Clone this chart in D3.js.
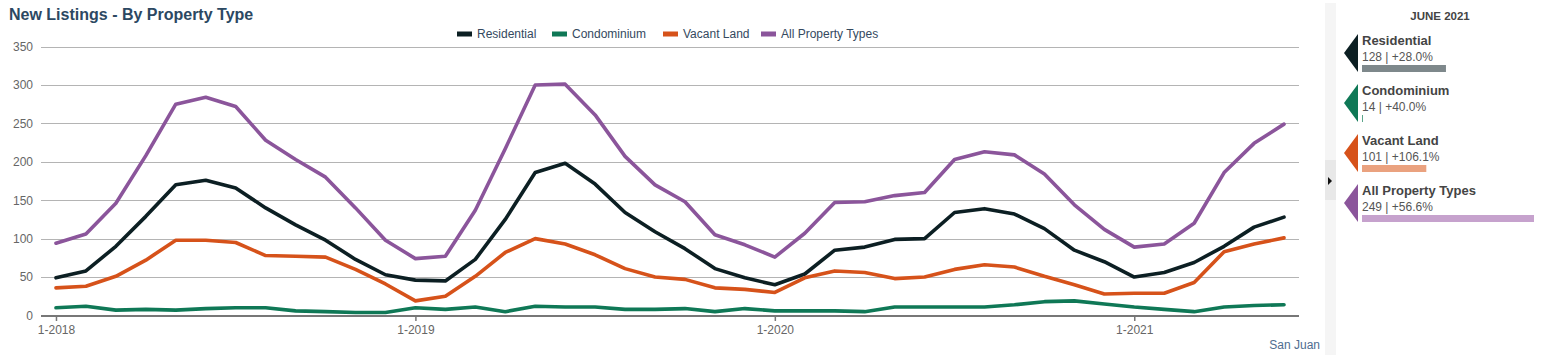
<!DOCTYPE html>
<html><head><meta charset="utf-8">
<script src="https://cdn.jsdelivr.net/npm/d3@7"></script>
<style>body{margin:0;background:#fff;}svg{display:block;font-family:"Liberation Sans",Arial,sans-serif;}</style>
</head><body>
<svg id="c" width="1543" height="355"></svg>
<script>
const months = ["1-2018","2-2018","3-2018","4-2018","5-2018","6-2018","7-2018","8-2018","9-2018","10-2018","11-2018","12-2018",
"1-2019","2-2019","3-2019","4-2019","5-2019","6-2019","7-2019","8-2019","9-2019","10-2019","11-2019","12-2019",
"1-2020","2-2020","3-2020","4-2020","5-2020","6-2020","7-2020","8-2020","9-2020","10-2020","11-2020","12-2020",
"1-2021","2-2021","3-2021","4-2021","5-2021","6-2021"];
const tickLabels = ["1-2018","1-2019","1-2020","1-2021"];
const yTicks = [0,50,100,150,200,250,300,350];
const seriesNames = ["Residential","Condominium","Vacant Land","All Property Types"];
const seriesColors = ["#0c1f23","#0f7856","#d6521a","#8b559b"];
const barColors = ["#7e888b","#5aa58a","#eaa27f","#c6a2cd"];
const residential = [49,58,90,129,170,176,166,140,118,98,73,53, 46,45,73,125,186,198,171,134,109,87,61,49, 40,54,85,89,99,100,134,139,132,113,85,70, 50,56,69,90,115,128];
const condominium = [10,12,7,8,7,9,10,10,6,5,4,4, 10,8,11,5,12,11,11,8,8,9,5,9, 6,6,6,5,11,11,11,11,14,18,19,15, 11,8,5,11,13,14];
const vacantLand = [36,38,51,72,98,98,95,78,77,76,60,41, 19,25,51,82,100,93,79,61,50,47,36,34, 30,49,58,56,48,50,60,66,63,51,40,28, 29,29,43,83,93,101];
const allTypes = [94,106,146,208,275,284,272,228,203,180,140,98, 74,77,137,217,300,301,261,207,170,148,105,92, 76,107,147,148,156,160,203,213,209,184,144,112, 89,93,120,186,224,249];
const panelTitle = "JUNE 2021";
const panelValues = [128,14,101,249];
const panelChanges = ["+28.0%","+40.0%","+106.1%","+56.6%"];

const series = [residential, condominium, vacantLand, allTypes];
const svg = d3.select("#c");

const x = d3.scalePoint().domain(months).range([41,1299]).padding(0.5);
const y = d3.scaleLinear().domain([0,350]).range([315.5,46.5]);

// title
svg.append("text").attr("x",9).attr("y",20).attr("font-size",16).attr("font-weight","bold")
  .attr("fill","#2c4862").text("New Listings - By Property Type");

// gridlines
svg.append("g").selectAll("line").data(yTicks.filter(d=>d>0)).join("line")
  .attr("x1",41).attr("x2",1299).attr("y1",d=>Math.round(y(d))+0.5).attr("y2",d=>Math.round(y(d))+0.5)
  .attr("stroke","#b4b4b4").attr("stroke-width",1);

// y labels
const yAxis = d3.axisLeft(y).tickValues(yTicks).tickSize(0).tickPadding(8);
const gy = svg.append("g").attr("transform","translate(41,0)").call(yAxis);
gy.select(".domain").remove();
gy.selectAll("text").attr("font-size",12).attr("fill","#666").attr("font-family","Liberation Sans, Arial, sans-serif");

// x axis
const xAxis = d3.axisBottom(x).tickValues(tickLabels).tickSize(5).tickPadding(4);
const gx = svg.append("g").attr("transform","translate(0,316)").call(xAxis);
gx.select(".domain").attr("d","M41,0H1299").attr("stroke","#777").attr("stroke-width",2);
gx.selectAll(".tick line").attr("stroke","#777").attr("stroke-width",1.5);
gx.selectAll("text").attr("font-size",12).attr("fill","#666").attr("font-family","Liberation Sans, Arial, sans-serif");

// lines
const line = d3.line().x((d,i)=>x(months[i])).y(d=>y(d));
svg.append("g").selectAll("path").data(series).join("path")
  .attr("d",d=>line(d)).attr("fill","none")
  .attr("stroke",(d,i)=>seriesColors[i]).attr("stroke-width",3.6)
  .attr("stroke-linejoin","round").attr("stroke-linecap","round");

// legend
const legendX = [457,552,663,761];
const lg = svg.append("g").selectAll("g").data(seriesNames).join("g")
  .attr("transform",(d,i)=>`translate(${legendX[i]},34)`);
lg.append("rect").attr("x",0).attr("y",-2.5).attr("width",15).attr("height",5).attr("fill",(d,i)=>seriesColors[i]);
lg.append("text").attr("x",20).attr("y",4).attr("font-size",12).attr("fill","#34495e").text(d=>d);

// source
svg.append("text").attr("x",1320).attr("y",349).attr("text-anchor","end").attr("font-size",12)
  .attr("fill","#4f6d8f").text("San Juan");

// right panel strip
svg.append("rect").attr("x",1325).attr("y",3).attr("width",11).attr("height",352).attr("fill","#f5f5f5");
svg.append("rect").attr("x",1325).attr("y",160).attr("width",11).attr("height",40).attr("fill","#e8e8e8");
svg.append("path").attr("d","M1328,177L1332,181L1328,185Z").attr("fill","#111");

svg.append("text").attr("x",1440).attr("y",20).attr("text-anchor","middle").attr("font-size",11.5)
  .attr("font-weight","bold").attr("fill","#444").text(panelTitle);

const wScale = d3.scaleLinear().domain([14,249]).range([1,172]);
const pg = svg.append("g").selectAll("g").data(seriesNames).join("g")
  .attr("transform",(d,i)=>`translate(1344,${34+i*50})`);
pg.append("path").attr("d","M14,0L0,19L14,38Z").attr("fill",(d,i)=>seriesColors[i]);
pg.append("text").attr("x",18).attr("y",11).attr("font-size",13).attr("font-weight","bold").attr("fill","#444").text(d=>d);
pg.append("text").attr("x",18).attr("y",27).attr("font-size",12).attr("fill","#555")
  .text((d,i)=>`${panelValues[i]} | ${panelChanges[i]}`);
pg.append("rect").attr("x",18).attr("y",31).attr("height",7)
  .attr("width",(d,i)=>wScale(panelValues[i])).attr("fill",(d,i)=>barColors[i]);
</script>
</body></html>
